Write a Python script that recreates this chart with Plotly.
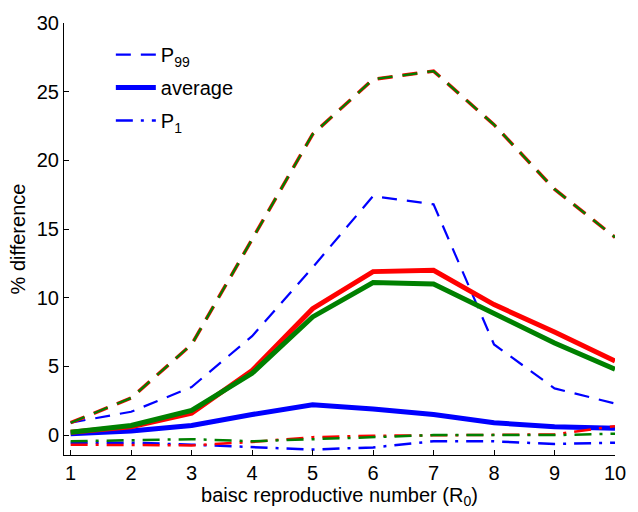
import plotly.graph_objects as go

r0 = [1, 2, 3, 4, 5, 6, 7, 8, 9, 10]

# blue series
blue_p99 = [0.9, 1.7, 3.5, 7.2, 12.2, 17.4, 16.8, 6.6, 3.4, 2.3]
blue_avg = [0.1, 0.3, 0.7, 1.5, 2.2, 1.9, 1.5, 0.9, 0.6, 0.5]
blue_p1 = [-0.55, -0.55, -0.7, -0.85, -1.05, -0.9, -0.45, -0.45, -0.65, -0.55]

# red series
red_p99 = [0.9, 2.7, 6.6, 14.3, 21.9, 25.9, 26.5, 22.6, 17.9, 14.4]
red_avg = [0.2, 0.6, 1.6, 4.7, 9.2, 11.9, 12.0, 9.5, 7.5, 5.4]
red_p1 = [-0.7, -0.7, -0.75, -0.5, -0.15, -0.05, 0.0, 0.0, 0.05, 0.65]

# green series
green_p99 = [0.9, 2.7, 6.6, 14.3, 21.9, 25.9, 26.5, 22.6, 17.9, 14.4]
green_avg = [0.2, 0.7, 1.8, 4.5, 8.6, 11.1, 11.0, 8.8, 6.7, 4.8]
green_p1 = [-0.45, -0.35, -0.3, -0.45, -0.3, -0.1, 0.0, 0.0, 0.0, 0.1]

legend_names = ["P<sub>99</sub>", "average", "P<sub>1</sub>"]
x_ticks = [1, 2, 3, 4, 5, 6, 7, 8, 9, 10]
y_ticks = [0, 5, 10, 15, 20, 25, 30]

BLUE = "#0000FF"
RED = "#FF0000"
GREEN = "#008000"
DASH = "15px,10px"
DASHDOT = "17px,8px,3px,8px"

fig = go.Figure()

def add(y, color, width, dash, name=None, show=False, group=None):
    fig.add_trace(go.Scatter(
        x=r0, y=y, mode="lines",
        line=dict(color=color, width=width, dash=dash),
        name=name if name else "", showlegend=show,
        legendgroup=group,
    ))

# blue (legend)
add(blue_p99, BLUE, 2.2, DASH, legend_names[0], True, "g1")
add(blue_avg, BLUE, 5, "solid", legend_names[1], True, "g2")
add(blue_p1, BLUE, 2.5, DASHDOT, legend_names[2], True, "g3")
# red
add(red_p99, RED, 3.5, DASH)
add(red_avg, RED, 5, "solid")
add(red_p1, RED, 2.5, DASHDOT)
# green
add(green_p99, GREEN, 2.2, DASH)
add(green_avg, GREEN, 5, "solid")
add(green_p1, GREEN, 2.5, DASHDOT)

FONT = "Liberation Sans, Arial, Helvetica, sans-serif"
FS = 20

fig.update_layout(
    width=638, height=512,
    margin=dict(l=64, r=13, t=17, b=57),
    paper_bgcolor="white", plot_bgcolor="white",
    font=dict(family=FONT, size=FS, color="black"),
    showlegend=True,
    legend=dict(
        x=0.085, y=0.972, xanchor="left", yanchor="top",
        bgcolor="rgba(0,0,0,0)", borderwidth=0,
        font=dict(size=FS, family=FONT),
        tracegroupgap=4,
        itemwidth=40,
    ),
    xaxis=dict(
        range=[0.89, 10], tickvals=x_ticks, ticktext=[str(v) for v in x_ticks],
        ticks="inside", ticklen=5, tickcolor="black",
        showline=True, linecolor="black", linewidth=1, mirror=False,
        showgrid=False, zeroline=False,
        tickfont=dict(size=FS),
        title=dict(text="baisc reproductive number (R<sub>0</sub>)", font=dict(size=FS), standoff=0),
    ),
    yaxis=dict(
        range=[-1.45, 30], tickvals=y_ticks, ticktext=[str(v) for v in y_ticks],
        ticks="inside", ticklen=5, tickcolor="black",
        showline=True, linecolor="black", linewidth=1, mirror=False,
        showgrid=False, zeroline=False,
        tickfont=dict(size=FS),
        title=dict(text="% difference", font=dict(size=FS), standoff=5),
    ),
)

fig.write_html("out.html")
